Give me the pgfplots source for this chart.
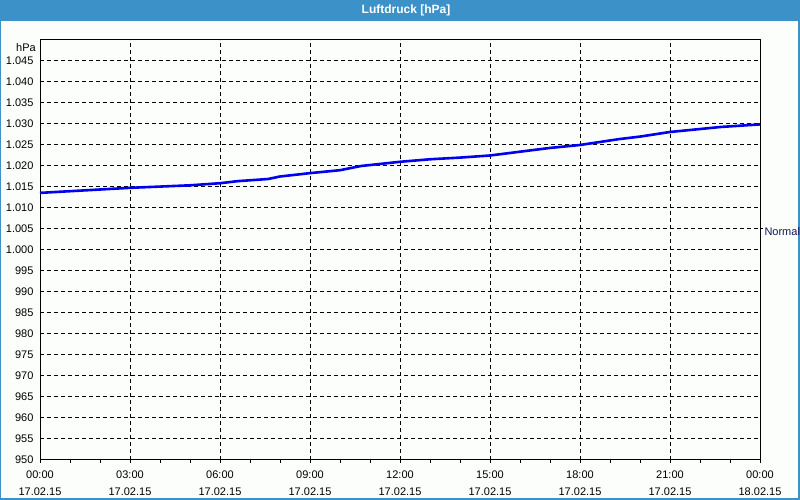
\documentclass[border=0pt]{standalone}
\usepackage{fontspec}
\setmainfont{Liberation Sans}
\usepackage{pgfplots}
\pgfplotsset{compat=1.18}
\definecolor{barblue}{RGB}{60,145,200}
\definecolor{bg}{RGB}{252,254,252}
\definecolor{lineblue}{RGB}{0,0,240}
\begin{document}
\begin{tikzpicture}
\useasboundingbox (0pt,0pt) rectangle (800pt,500pt);
\fill[barblue] (0pt,0pt) rectangle (800pt,500pt);
\fill[bg] (1pt,2pt) rectangle (798pt,479pt);
\node[text=white, font=\bfseries\fontsize{12}{14}\selectfont] at (406pt,489.5pt) {Luftdruck [hPa]};
\begin{axis}[
  at={(40pt,40pt)}, anchor=south west,
  scale only axis, width=720pt, height=420pt,
  clip=false,
  xmin=0, xmax=24, ymin=950, ymax=1050,
  xtick={0,3,...,24},
  minor xtick={1,2,4,5,7,8,10,11,13,14,16,17,19,20,22,23},
  xticklabels={{00:00\\17.02.15},{03:00\\17.02.15},{06:00\\17.02.15},{09:00\\17.02.15},{12:00\\17.02.15},{15:00\\17.02.15},{18:00\\17.02.15},{21:00\\17.02.15},{00:00\\18.02.15}},
  ytick={950,955,...,1045},
  xtick pos=lower, ytick pos=left,
  tick align=outside,
  major tick length=3pt, minor tick length=3pt,
  ytick style={draw=none},
  xtick style={line width=1pt, black},
  minor tick style={line width=1pt, black},
  xmajorgrids, ymajorgrids,
  major grid style={black, line width=1pt, dash pattern=on 4pt off 3pt},
  axis line style={line width=1pt, black},
  tick label style={font=\fontsize{11}{17}\selectfont},
  xticklabel style={align=center, yshift=-4pt},
  /pgf/number format/.cd, 1000 sep={.}, assume math mode=true,
]
\addplot[lineblue, line width=2.6pt] coordinates {
(0,1013.6) (1,1014.0) (2,1014.4) (3,1014.8) (4,1015.1) (5,1015.4)
(6,1015.9) (6.6,1016.4) (7.6,1016.9) (8,1017.5) (9,1018.3) (10,1019.0)
(10.7,1020.0) (12,1021.0) (13,1021.6) (14,1022.0) (15,1022.5) (16,1023.4)
(17,1024.3) (18,1025.0) (19.3,1026.4) (20,1027.0) (21,1028.1) (22,1028.8)
(22.7,1029.3) (24,1029.9)
};
\draw[line width=1pt] (axis cs:24,1005) -- ++(3pt,0pt) node[anchor=west, inner sep=1pt, yshift=-3pt, text={rgb,255:red,20;green,20;blue,90}, font=\fontsize{11}{13}\selectfont] {Normal};
\node[anchor=north east, inner sep=0pt, xshift=-4pt, yshift=-3pt, font=\fontsize{11}{13}\selectfont] at (rel axis cs:0,1) {hPa};
\end{axis}
\end{tikzpicture}
\end{document}
